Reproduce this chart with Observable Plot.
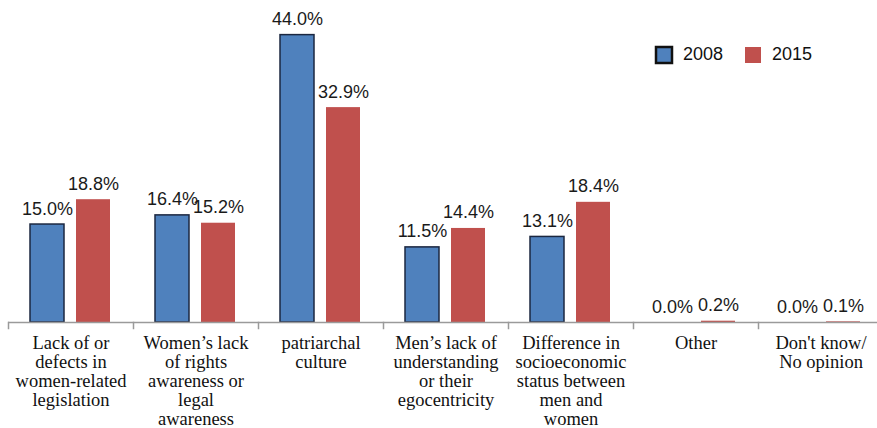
<!DOCTYPE html>
<html>
<head>
<meta charset="utf-8">
<script src="https://cdn.jsdelivr.net/npm/d3@7"></script>
<script src="https://cdn.jsdelivr.net/npm/@observablehq/plot@0.6"></script>
<style>
  body { margin: 0; background: #fff; }
  #chart { position: relative; width: 877px; height: 428px; }
  #legend { position: absolute; left: 656px; top: 38px; }
  .yrs-swatch { margin-right: 22px !important; color: #111; }
  .yrs-swatch > svg { margin-right: 11px !important; }
  .yrs-swatch:first-of-type svg rect { stroke: #111; stroke-width: 2.5; }
</style>
</head>
<body>
<div id="chart"><div id="legend"></div></div>
<script>
// Causes of gender inequality, share of respondents (%)
const categories = [
  "Lack of or\ndefects in\nwomen-related\nlegislation",
  "Women\u2019s lack\nof rights\nawareness or\nlegal\nawareness",
  "patriarchal\nculture",
  "Men\u2019s lack of\nunderstanding\nor their\negocentricity",
  "Difference in\nsocioeconomic\nstatus between\nmen and\nwomen",
  "Other",
  "Don't know/\nNo opinion"
];
const years = ["2008", "2015"];
const values2008 = [15.0, 16.4, 44.0, 11.5, 13.1, 0.0, 0.0];
const values2015 = [18.8, 15.2, 32.9, 14.4, 18.4, 0.2, 0.1];
const yearColors = ["#4F81BD", "#C0504D"];

const data = categories.flatMap((category, i) => [
  {category, year: years[0], value: values2008[i]},
  {category, year: years[1], value: values2015[i]}
]);
const data2008 = data.filter(d => d.year === years[0]);
const data2015 = data.filter(d => d.year === years[1]);

const labelFont = "Liberation Sans";
const categoryFont = "Liberation Serif";

const chart = Plot.plot({
  width: 877,
  height: 428,
  marginTop: 0,
  marginBottom: 106,
  marginLeft: 8,
  marginRight: -6,
  fx: {domain: categories, padding: 0, axis: null},
  x: {domain: years, paddingInner: 0.26, paddingOuter: 0.478, axis: null},
  y: {domain: [0, 49.3], axis: null},
  color: {domain: years, range: yearColors},
  marks: [
    Plot.barY(data2008, {fx: "category", x: "year", y: "value", fill: "year", stroke: "#1b2740", strokeWidth: 1.5}),
    Plot.barY(data2015, {fx: "category", x: "year", y: "value", fill: "year"}),
    Plot.text(data, {
      fx: "category", x: "year", y: "value",
      text: d => d.value.toFixed(1) + "%",
      lineAnchor: "bottom", dy: -10,
      fontSize: 18, fontFamily: labelFont, fill: "#1a1a1a"
    }),
    Plot.ruleY([0], {stroke: "#9a9a9a", strokeWidth: 1.5}),
    Plot.frame({anchor: "left", stroke: "#9a9a9a", strokeWidth: 1.5, insetTop: 322, insetBottom: -6}),
    // category names below the baseline, one per facet
    Plot.text(categories, {
      fx: d => d, text: d => d,
      frameAnchor: "bottom", lineAnchor: "top", dy: 13,
      lineHeight: 1.03, fontSize: 18.5, fontFamily: categoryFont, fill: "#111"
    })
  ]
});
document.getElementById("chart").prepend(chart);

const legend = Plot.legend({
  color: {domain: years, range: yearColors},
  swatchSize: 16,
  className: "yrs",
  style: {fontSize: "18px", fontFamily: labelFont}
});
document.getElementById("legend").append(legend);
</script>
</body>
</html>
